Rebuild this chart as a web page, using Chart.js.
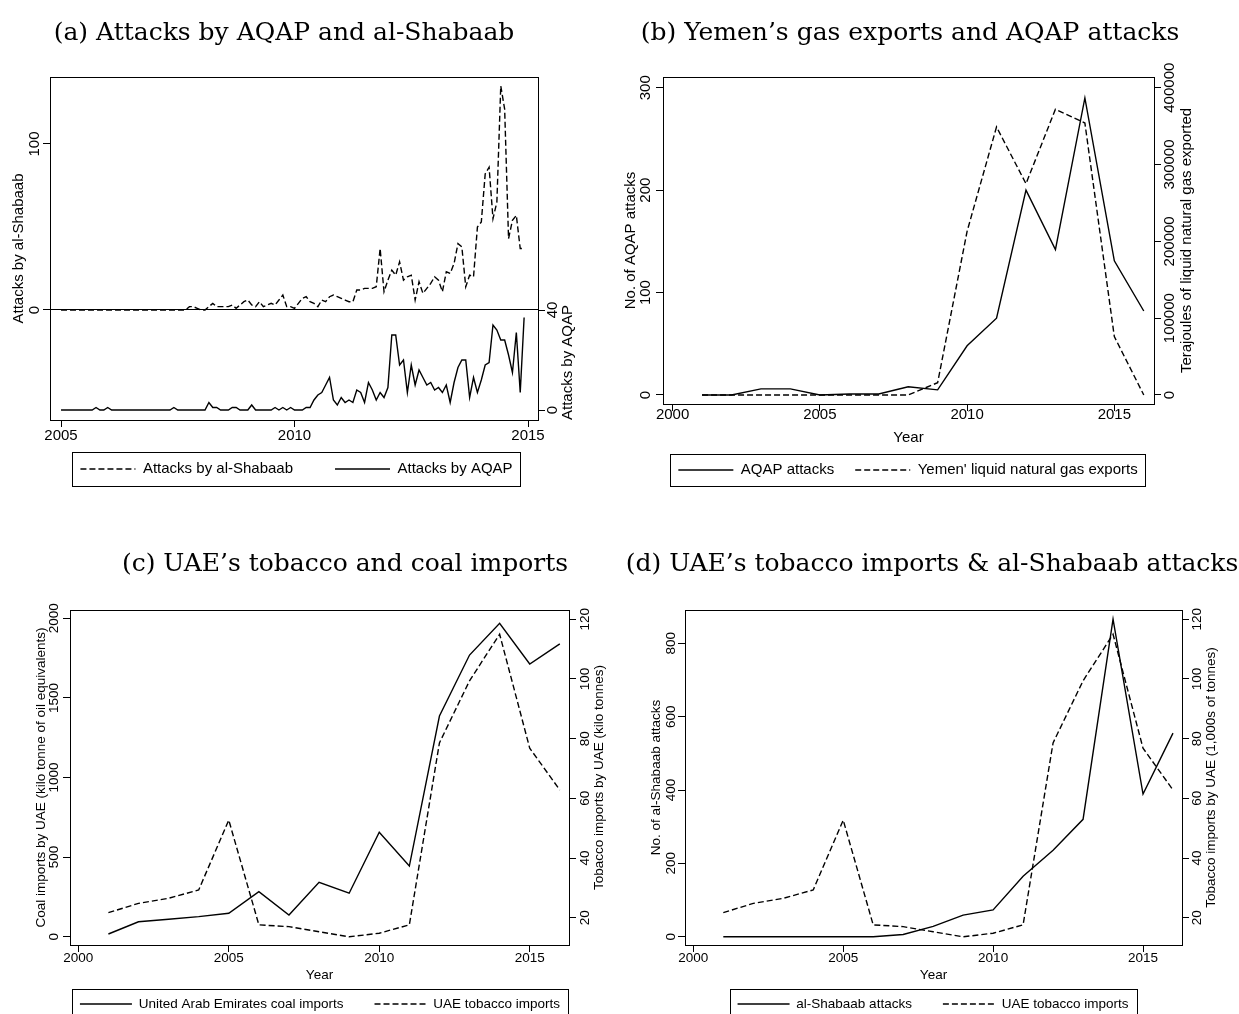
<!DOCTYPE html>
<html>
<head>
<meta charset="utf-8">
<script src="https://cdn.jsdelivr.net/npm/chart.js@4.4.1/dist/chart.umd.min.js"></script>
<style>
  body { margin: 0; width: 1239px; height: 1014px; overflow: hidden; background: #fff; position: relative; }
  canvas { position: absolute; left: 0; top: 0; }
  .cap { position: absolute; transform: translate(-50%, -50%); font: 25px 'DejaVu Serif', serif; white-space: nowrap; color: #000; z-index: 2; }
</style>
</head>
<body>
<div class="cap" style="left:284px;top:31px">(a) Attacks by AQAP and al-Shabaab</div>
<div class="cap" style="left:910px;top:31px">(b) Yemen’s gas exports and AQAP attacks</div>
<div class="cap" style="left:345px;top:562px">(c) UAE’s tobacco and coal imports</div>
<div class="cap" style="left:932px;top:562px">(d) UAE’s tobacco imports &amp; al-Shabaab attacks</div>
<canvas id="chartA" width="1239" height="1060"></canvas>
<canvas id="chartB" width="1239" height="1060"></canvas>
<canvas id="chartC" width="1239" height="1060"></canvas>
<canvas id="chartD" width="1239" height="1060"></canvas>
<script>
const FONT = "'Liberation Sans', Arial, Helvetica, sans-serif";
Chart.defaults.font.family = FONT;
Chart.defaults.color = '#000';

// panel (a): monthly attacks, Jan 2005 - Dec 2014
const monthStart = 2005;
const shabaabMonthly = [
  0,0,0,0,0,0,0,0,0,0, 0,0,0,0,0,0,0,0,0,0, 0,0,0,0,0,0,0,0,0,0, 0,0,0,
  2,2,1,0,0,2,4,2,2,2,
  2,3,1,3,5,6,3,2,5,2,
  3,4,3,6,9,2,2,1,4,7,
  8,5,4,2,6,5,8,9,8,7,
  6,5,5,12,12,13,13,13,14,37,
  11,18,24,21,29,18,20,21,6,17,
  10,13,16,20,18,11,23,22,28,40,
  38,14,21,20,50,53,82,86,55,65,
  135,121,43,54,57,37,37
];
const aqapMonthly = [
  0,0,0,0,0,0,0,0,0,1,
  0,0,1,0,0,0,0,0,0,0,
  0,0,0,0,0,0,0,0,0,1,
  0,0,0,0,0,0,0,0,3,1,
  1,0,0,0,1,1,0,0,0,2,
  0,0,0,0,0,1,0,1,0,1,
  0,0,0,1,1,4,6,7,10,13,
  4,2,5,3,4,3,8,7,3,11,
  8,4,7,5,9,30,30,18,20,7,
  18,10,16,13,10,11,8,9,7,10,
  3,11,17,20,20,5,13,7,12,18,
  19,34,32,28,28,22,15,31,7,37
];

// panels (b)-(d): annual series
const years = [2001, 2002, 2003, 2004, 2005, 2006, 2007, 2008, 2009, 2010, 2011, 2012, 2013, 2014, 2015, 2016];
const aqapAttacks = [0, 0, 6, 6, 0, 1, 1, 8, 5, 48, 75, 200, 142, 290, 131, 82];
const gasExports = [0, 0, 0, 0, 0, 0, 0, 0, 16000, 213000, 349000, 275000, 372000, 354000, 76000, 0];
const coalImports = [17, 94, 110, 126, 147, 283, 136, 342, 273, 656, 444, 1386, 1769, 1968, 1713, 1839];
const tobaccoImports = [21.7, 24.8, 26.5, 29.3, 52.7, 17.6, 17, 15.3, 13.6, 14.8, 17.6, 78.6, 99.4, 115, 76.8, 62.8];
const shabaabAttacks = [0, 0, 0, 0, 0, 0, 6, 28, 59, 73, 165, 236, 320, 866, 389, 555];

// tick labels
const monthYearTicks = [2005, 2010, 2015];
const yearTicks = [2000, 2005, 2010, 2015];
const shabaabMonthTicks = [0, 100];
const aqapMonthTicks = [0, 40];
const aqapTicks = [0, 100, 200, 300];
const gasTicks = [0, 100000, 200000, 300000, 400000];
const coalTicks = [0, 500, 1000, 1500, 2000];
const tobaccoTicks = [20, 40, 60, 80, 100, 120];
const shabaabTicks = [0, 200, 400, 600, 800];

const TICK = 7;
const W = 1239, H = 1060;
const measureCtx = document.createElement('canvas').getContext('2d');
function textWidth(s, size) {
  measureCtx.font = size + 'px ' + FONT;
  return measureCtx.measureText(s).width;
}

function pts(xs, ys) {
  return ys.map((v, i) => ({ x: xs[i], y: v }));
}
const monthX = shabaabMonthly.map((_, i) => monthStart + i / 12);

function line(label, data, dashed, axis) {
  return {
    label, data, yAxisID: axis,
    borderColor: '#000', borderWidth: 1.4,
    borderDash: dashed ? [6, 3] : [],
    pointRadius: 0, fill: false, tension: 0
  };
}

// plot area in page pixels, legend row centre, legend key gap, x-axis band height
function layoutFor(cfg) {
  const { area, legend, gap, fs, xH } = cfg;
  let padL = 0, padR = W - 2 * legend.x;
  if (padR < 0) { padL = -padR; padR = 0; }
  const legendTop = area.b + xH;
  return {
    padding: { left: padL, right: padR, top: area.t, bottom: H - legendTop - (fs + gap + 10) },
    leftW: area.l - padL, rightW: W - padR - area.r,
    legendTop, padL,
    shift: legendTop + gap + fs / 2 - legend.y
  };
}

function xScale(p, lay, cfg) {
  const half = cfg.fs * 0.6;
  return {
    type: 'linear', position: 'bottom', min: p.min, max: p.max,
    afterBuildTicks: s => { s.ticks = p.ticks.map(v => ({ value: v })); },
    afterFit: s => { s.height = cfg.xH; },
    grid: { drawOnChartArea: false, tickLength: TICK, tickColor: '#000', tickWidth: 1 },
    border: { display: false },
    ticks: {
      autoSkip: false, maxRotation: 0, font: { size: cfg.fs },
      padding: p.labelY - cfg.area.b - TICK - half, callback: v => String(v)
    },
    title: p.title
      ? { display: true, text: p.title, font: { size: cfg.fs }, padding: { top: 0, bottom: lay.legendTop - half - p.titleY } }
      : { display: false }
  };
}

function yScale(p, width, side, fs, scaleLeft) {
  const widest = Math.max(...p.ticks.map(v => textWidth(String(v), fs)));
  return {
    type: 'linear', position: side, min: p.min, max: p.max,
    afterBuildTicks: s => { s.ticks = p.ticks.map(v => ({ value: v })); },
    afterFit: s => { s.width = width; },
    grid: {
      drawOnChartArea: !!p.zeroLine,
      color: c => (p.zeroLine && c.tick && c.tick.value === 0) ? '#000' : 'rgba(0,0,0,0)',
      tickLength: TICK, tickColor: '#000', tickWidth: 1
    },
    border: { display: false },
    ticks: {
      autoSkip: false, minRotation: 90, maxRotation: 90, crossAlign: 'center', font: { size: fs },
      padding: p.labelOffset - TICK - widest / 2, callback: v => String(v)
    },
    title: side === 'left'
      ? { display: true, text: p.title, font: { size: fs }, padding: { top: p.titleX - scaleLeft - fs * 0.6, bottom: 0 } }
      : { display: false }
  };
}

const frame = {
  id: 'frame',
  afterDatasetsDraw(chart) {
    const { ctx, chartArea: a } = chart;
    ctx.save();
    ctx.strokeStyle = '#000';
    ctx.lineWidth = 1;
    ctx.strokeRect(Math.round(a.left) + 0.5, Math.round(a.top) + 0.5, Math.round(a.right - a.left), Math.round(a.bottom - a.top));
    ctx.restore();
  }
};

// right-hand axis titles read bottom-to-top, like the left ones
const rightTitle = {
  id: 'rightTitle',
  afterDraw(chart, args, opts) {
    if (!opts || !opts.text) return;
    const { ctx, chartArea: a } = chart;
    const y = opts.at !== undefined ? chart.scales.y2.getPixelForValue(opts.at) : (a.top + a.bottom) / 2;
    ctx.save();
    ctx.translate(opts.x, y);
    ctx.rotate(-Math.PI / 2);
    ctx.font = opts.size + 'px ' + FONT;
    ctx.fillStyle = '#000';
    ctx.textAlign = 'center';
    ctx.textBaseline = 'middle';
    ctx.fillText(opts.text, 0, 0);
    ctx.restore();
  }
};

// the legend sits closer to the axis labels than Chart.js would put it
const legendNudge = {
  id: 'legendNudge',
  afterLayout(chart, args, opts) {
    const lg = chart.legend;
    if (!lg || !opts || !opts.shift) return;
    lg.top -= opts.shift;
    lg.bottom -= opts.shift;
  }
};

const legendBox = {
  id: 'legendBox',
  afterDraw(chart, args, opts) {
    const lg = chart.legend;
    if (!lg || !lg.legendHitBoxes || !lg.legendHitBoxes.length) return;
    const hb = lg.legendHitBoxes;
    const l = Math.min(...hb.map(b => b.left)) - 8;
    const r = Math.max(...hb.map(b => b.left + b.width)) + 8;
    const mid = hb[0].top + hb[0].height / 2;
    const { ctx } = chart;
    ctx.save();
    ctx.strokeStyle = '#000';
    ctx.lineWidth = 1;
    ctx.strokeRect(Math.round(l) + 0.5, Math.round(mid - opts.half) + 0.5, Math.round(r - l), opts.half * 2);
    ctx.restore();
  }
};

function panel(id, cfg) {
  const lay = layoutFor(cfg);
  return new Chart(document.getElementById(id), {
    type: 'line',
    data: { datasets: cfg.datasets },
    options: {
      responsive: false, animation: false, devicePixelRatio: 1,
      layout: { padding: lay.padding },
      scales: {
        x: xScale(cfg.x, lay, cfg),
        y: yScale(cfg.y, lay.leftW, 'left', cfg.fs, lay.padL),
        y2: yScale(cfg.y2, lay.rightW, 'right', cfg.fs)
      },
      plugins: {
        legend: {
          position: 'bottom',
          labels: {
            usePointStyle: true, pointStyle: 'line', pointStyleWidth: cfg.keyW,
            padding: cfg.gap, color: '#000', font: { size: cfg.fs },
            generateLabels: chart => chart.data.datasets.map((ds, i) => ({
              text: ds.label, datasetIndex: i, hidden: false,
              strokeStyle: '#000', fillStyle: '#000',
              lineWidth: ds.borderWidth, lineDash: ds.borderDash, pointStyle: 'line'
            }))
          }
        },
        tooltip: { enabled: false },
        legendNudge: { shift: lay.shift },
        legendBox: { half: cfg.boxHalf },
        rightTitle: { text: cfg.y2.title, x: cfg.y2.titleX, at: cfg.y2.titleAt, size: cfg.fs }
      }
    },
    plugins: [frame, rightTitle, legendNudge, legendBox]
  });
}

// (a) Attacks by AQAP and al-Shabaab
panel('chartA', {
  fs: 15, area: { l: 50, t: 77, r: 538, b: 420 }, xH: 30,
  legend: { x: 296.5, y: 469 }, gap: 42, keyW: 55, boxHalf: 17,
  datasets: [
    line('Attacks by al-Shabaab', pts(monthX, shabaabMonthly), true, 'y'),
    line('Attacks by AQAP', pts(monthX, aqapMonthly), false, 'y2')
  ],
  x: { min: 2004.764, max: 2015.214, ticks: monthYearTicks, labelY: 436 },
  y: { min: -66.27, max: 140.36, ticks: shabaabMonthTicks, labelOffset: 15, zeroLine: true, title: 'Attacks by al-Shabaab', titleX: 18.5 },
  y2: { min: -4, max: 133.2, ticks: aqapMonthTicks, labelOffset: 15, title: 'Attacks by AQAP', titleX: 568, titleAt: 19 }
});

// (b) Yemen's gas exports and AQAP attacks
panel('chartB', {
  fs: 15, area: { l: 663, t: 77, r: 1154, b: 404 }, xH: 46,
  legend: { x: 908, y: 470 }, gap: 21, keyW: 55, boxHalf: 16,
  datasets: [
    line('AQAP attacks', pts(years, aqapAttacks), false, 'y'),
    line('Yemen\' liquid natural gas exports', pts(years, gasExports), true, 'y2')
  ],
  x: { min: 1999.674, max: 2016.347, ticks: yearTicks, labelY: 415, title: 'Year', titleY: 437.5 },
  y: { min: -8.79, max: 310.45, ticks: aqapTicks, labelOffset: 17, title: 'No. of AQAP attacks', titleX: 631 },
  y2: { min: -11720, max: 413930, ticks: gasTicks, labelOffset: 16, title: 'Terajoules of liquid natural gas exported', titleX: 1187 }
});

// (c) UAE's tobacco and coal imports
panel('chartC', {
  fs: 13.5, area: { l: 70, t: 610, r: 569, b: 945 }, xH: 42,
  legend: { x: 320, y: 1004 }, gap: 31, keyW: 52, boxHalf: 15,
  datasets: [
    line('United Arab Emirates coal imports', pts(years, coalImports), false, 'y'),
    line('UAE tobacco imports', pts(years, tobaccoImports), true, 'y2')
  ],
  x: { min: 1999.724, max: 2016.305, ticks: yearTicks, labelY: 958, title: 'Year', titleY: 975 },
  y: { min: -52.1, max: 2052, ticks: coalTicks, labelOffset: 16, title: 'Coal imports by UAE (kilo tonne of oil equivalents)', titleX: 41 },
  y2: { min: 10.85, max: 123.12, ticks: tobaccoTicks, labelOffset: 16, title: 'Tobacco imports by UAE (kilo tonnes)', titleX: 599 }
});

// (d) UAE's tobacco imports & al-Shabaab attacks
panel('chartD', {
  fs: 13.5, area: { l: 685, t: 610, r: 1182, b: 945 }, xH: 42,
  legend: { x: 933, y: 1004 }, gap: 31, keyW: 52, boxHalf: 15,
  datasets: [
    line('al-Shabaab attacks', pts(years, shabaabAttacks), false, 'y'),
    line('UAE tobacco imports', pts(years, tobaccoImports), true, 'y2')
  ],
  x: { min: 1999.723, max: 2016.30, ticks: yearTicks, labelY: 958, title: 'Year', titleY: 975 },
  y: { min: -22.6, max: 890.8, ticks: shabaabTicks, labelOffset: 14, title: 'No. of al-Shabaab attacks', titleX: 656 },
  y2: { min: 10.85, max: 123.12, ticks: tobaccoTicks, labelOffset: 15, title: 'Tobacco imports by UAE (1,000s of tonnes)', titleX: 1211 }
});
</script>
</body>
</html>
